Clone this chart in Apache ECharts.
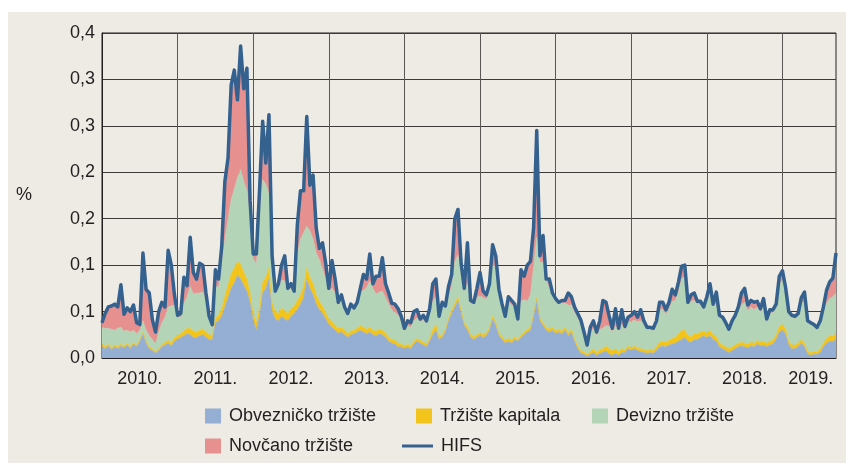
<!DOCTYPE html>
<html>
<head>
<meta charset="utf-8">
<script src="https://cdn.jsdelivr.net/npm/echarts@6/dist/echarts.min.js"></script>
<style>
html, body { margin: 0; padding: 0; background: #fff; }
#main { width: 846px; height: 463px; }
</style>
</head>
<body>
<div id="main"></div>
<script>
// polumjesečne vrijednosti, od siječnja 2010.
var startYear = 2010;
var stepsPerYear = 24;

var yearLabels = ['2010.', '2011.', '2012.', '2013.', '2014.', '2015.', '2016.', '2017.', '2018.', '2019.'];
var yTickLabels = ['0,0', '0,1', '0,1', '0,2', '0,2', '0,3', '0,3', '0,4'];

var obveznicko = [
  .012,.010,.013,.009,.012,.010,.013,.011,.014,.010,.015,.012,
  .018,.026,.016,.010,.008,.005,.008,.012,.014,.016,.013,.018,
  .020,.022,.024,.026,.025,.022,.022,.024,.025,.022,.020,.020,
  .038,.040,.045,.055,.065,.075,.081,.089,.085,.078,.072,.060,
  .040,.030,.045,.070,.075,.085,.050,.042,.040,.045,.042,.040,
  .045,.048,.052,.058,.065,.085,.075,.068,.058,.052,.048,.042,
  .036,.033,.030,.027,.028,.025,.022,.025,.026,.028,.030,.028,
  .026,.028,.025,.024,.026,.025,.022,.018,.016,.015,.012,.012,
  .010,.012,.010,.015,.018,.016,.014,.012,.018,.025,.030,.020,
  .022,.028,.040,.048,.055,.062,.048,.035,.030,.022,.020,.022,
  .024,.022,.024,.030,.042,.035,.024,.020,.016,.018,.016,.020,
  .018,.022,.025,.028,.030,.045,.062,.040,.035,.030,.028,.030,
  .026,.028,.026,.030,.024,.028,.018,.010,.005,.004,.002,.004,
  .006,.003,.005,.006,.008,.004,.003,.005,.003,.006,.006,.010,
  .008,.010,.008,.007,.006,.005,.006,.005,.008,.012,.013,.012,
  .014,.015,.016,.018,.020,.022,.018,.017,.020,.020,.022,.024,
  .022,.024,.020,.018,.012,.010,.008,.006,.008,.010,.012,.013,
  .012,.011,.013,.012,.015,.013,.014,.012,.014,.015,.020,.028,
  .030,.026,.014,.010,.010,.012,.016,.012,.004,.003,.004,.004,
  .006,.012,.016,.018,.018,.020
];

var kapitala = [
  .003,.002,.002,.002,.002,.002,.002,.002,.002,.002,.002,.002,
  .002,.002,.002,.002,.002,.002,.002,.002,.003,.003,.003,.004,
  .004,.004,.005,.006,.007,.007,.006,.006,.006,.006,.005,.004,
  .005,.006,.008,.012,.014,.016,.016,.015,.016,.014,.013,.011,
  .008,.008,.010,.012,.012,.012,.010,.008,.008,.009,.009,.008,
  .008,.008,.010,.010,.012,.012,.012,.012,.010,.009,.008,.007,
  .006,.006,.005,.005,.005,.005,.004,.004,.004,.004,.005,.005,
  .005,.005,.005,.005,.005,.005,.005,.004,.004,.004,.004,.003,
  .003,.003,.003,.003,.003,.003,.003,.003,.003,.006,.006,.003,
  .003,.003,.003,.004,.004,.004,.004,.003,.004,.003,.003,.003,
  .003,.003,.003,.003,.003,.003,.003,.003,.003,.003,.003,.003,
  .002,.003,.003,.003,.003,.003,.003,.003,.003,.003,.003,.003,
  .003,.003,.003,.003,.003,.003,.003,.003,.003,.003,.002,.003,
  .004,.003,.004,.004,.005,.006,.005,.005,.004,.004,.003,.003,
  .003,.003,.003,.003,.003,.003,.003,.003,.004,.005,.005,.005,
  .005,.006,.006,.008,.010,.008,.006,.006,.006,.006,.006,.005,
  .005,.006,.005,.005,.004,.004,.004,.004,.004,.004,.004,.004,
  .004,.004,.004,.004,.004,.004,.004,.004,.004,.004,.005,.006,
  .006,.005,.004,.004,.004,.004,.004,.004,.003,.003,.003,.003,
  .004,.004,.005,.006,.006,.006
];

var devizno = [
  .018,.020,.017,.020,.016,.020,.018,.016,.014,.016,.013,.012,
  .010,.012,.012,.012,.010,.008,.018,.024,.027,.036,.040,.035,
  .020,.018,.030,.034,.045,.040,.042,.040,.040,.035,.018,.010,
  .035,.030,.050,.060,.070,.080,.085,.090,.102,.098,.095,.080,
  .060,.062,.100,.110,.100,.080,.037,.020,.028,.030,.032,.025,
  .022,.014,.050,.060,.058,.045,.050,.048,.045,.045,.040,.036,
  .031,.036,.035,.026,.030,.024,.020,.026,.022,.026,.036,.040,
  .045,.050,.045,.040,.040,.042,.038,.036,.032,.030,.030,.024,
  .017,.020,.020,.022,.022,.020,.024,.023,.026,.030,.030,.020,
  .030,.024,.025,.025,.045,.045,.040,.035,.046,.035,.035,.040,
  .040,.040,.036,.040,.055,.060,.045,.033,.024,.040,.038,.032,
  .020,.036,.035,.030,.035,.050,.065,.060,.065,.050,.045,.035,
  .032,.027,.030,.026,.030,.026,.028,.030,.028,.020,.008,.020,
  .022,.018,.022,.022,.022,.024,.020,.025,.022,.026,.022,.026,
  .028,.028,.028,.030,.028,.023,.022,.022,.024,.036,.034,.030,
  .034,.040,.040,.045,.055,.058,.034,.038,.036,.032,.030,.024,
  .033,.040,.030,.036,.028,.028,.024,.019,.026,.030,.034,.040,
  .044,.036,.038,.036,.036,.033,.038,.024,.030,.030,.030,.045,
  .048,.040,.030,.030,.029,.030,.040,.044,.031,.030,.027,.024,
  .028,.034,.038,.040,.042,.044
];

var novcano = [
  .003,.014,.021,.023,.026,.021,.044,.016,.022,.020,.025,.010,
  .004,.071,.042,.044,.019,.011,.020,.020,.009,.059,.042,.009,
  0,.002,.026,.010,.051,.021,.013,.030,.027,.005,0,0,
  .015,.007,.015,.061,.064,.121,.126,.082,.130,.098,.130,.017,
  .002,.010,.023,.061,.021,.083,.011,0,.002,.014,.025,0,
  .003,0,.029,.050,.043,.116,.047,.067,.025,.010,.026,.015,
  0,.028,.013,0,.003,0,0,.001,0,0,.002,.015,
  .007,.027,.003,.017,.015,.034,.013,.010,.005,.007,.005,.004,
  0,.003,.003,.008,.007,.001,.003,0,.004,.017,.017,0,
  .003,0,.007,.011,.044,.047,.008,0,.042,0,0,.008,
  .023,.005,.003,.005,.020,.010,0,0,0,.003,.003,.001,
  0,.032,.023,.037,.034,.040,.110,.005,.027,0,.007,0,
  .001,0,.001,.001,.011,.007,.004,.003,.003,0,0,.004,
  .006,.002,.007,.028,.023,.009,.002,.016,.001,.014,.001,.003,
  .005,.007,.003,.010,.001,0,0,0,.002,.005,.006,.003,
  .005,.011,.004,.009,.012,.010,0,.005,.006,.001,.001,0,
  .004,.008,.001,.010,0,0,0,0,0,0,.003,.011,
  .013,.004,.005,.006,.004,.001,.006,0,.002,.001,.001,.007,
  .008,.003,0,0,0,0,.003,.009,0,0,0,0,
  0,.003,.012,.016,.018,.041
];

var hifs = [
  .038,.048,.055,.056,.058,.055,.079,.047,.054,.050,.057,.038,
  .036,.113,.074,.070,.041,.028,.050,.060,.055,.116,.100,.068,
  .046,.048,.087,.078,.130,.092,.085,.102,.100,.070,.045,.036,
  .095,.085,.120,.190,.215,.294,.310,.278,.336,.290,.312,.170,
  .112,.112,.180,.255,.210,.262,.110,.072,.080,.100,.110,.075,
  .080,.072,.143,.180,.180,.260,.186,.197,.140,.118,.124,.102,
  .075,.105,.085,.060,.068,.055,.048,.058,.054,.060,.075,.090,
  .085,.112,.080,.088,.088,.108,.080,.070,.059,.058,.053,.045,
  .032,.040,.038,.050,.052,.042,.046,.040,.053,.080,.085,.045,
  .060,.056,.077,.090,.150,.160,.102,.075,.124,.062,.060,.075,
  .092,.072,.068,.080,.122,.110,.074,.058,.045,.066,.062,.058,
  .042,.095,.088,.100,.104,.140,.245,.110,.132,.085,.085,.070,
  .064,.060,.062,.062,.070,.066,.055,.048,.041,.028,.014,.033,
  .040,.028,.040,.062,.060,.045,.032,.053,.032,.052,.034,.044,
  .046,.050,.044,.052,.040,.033,.033,.032,.040,.060,.060,.052,
  .060,.074,.068,.082,.099,.100,.060,.068,.070,.061,.061,.055,
  .066,.080,.058,.071,.046,.044,.038,.031,.040,.046,.055,.070,
  .075,.057,.062,.060,.061,.053,.064,.042,.052,.052,.058,.088,
  .094,.076,.050,.046,.045,.048,.065,.071,.040,.038,.036,.033,
  .040,.055,.073,.082,.086,.113
];

// kategorije: godina-polumjesec
var periods = [];
for (var i = 0; i < hifs.length; i++) {
  periods.push((startYear + Math.floor(i / stepsPerYear)) + '-' + (i % stepsPerYear + 1));
}
var lastIndex = periods.length - 1;
var lastYearStart = (yearLabels.length - 1) * stepsPerYear;

// na kojem indeksu stoji oznaka godine (sredina razdoblja)
function isYearLabel(idx) {
  if (idx >= lastYearStart) return idx === Math.round((lastYearStart + lastIndex) / 2);
  return idx % stepsPerYear === stepsPerYear / 2;
}

var FONT = "'Liberation Sans', Arial, sans-serif";
var TXT = '#231f20';

var colors = {
  obv: '#95aed4',
  kap: '#f2c41c',
  dev: '#b3d4b6',
  nov: '#e69190',
  hifs: '#35618f'
};

function areaSeries(name, values, color) {
  return {
    name: name,
    type: 'line',
    stack: 'hifs',
    data: values,
    symbol: 'none',
    showSymbol: false,
    lineStyle: { width: 0.5, color: color },
    areaStyle: { color: color, opacity: 1 },
    itemStyle: { color: color },
    emphasis: { disabled: true }
  };
}

function legendAt(name, left, top, w, h) {
  return {
    data: [name],
    left: left,
    top: top,
    icon: 'rect',
    itemWidth: w,
    itemHeight: h,
    padding: 0,
    selectedMode: false,
    itemStyle: { borderWidth: 0 },
    textStyle: { fontFamily: FONT, fontSize: 18, color: TXT, padding: [0, 0, 0, 3] }
  };
}

var myChart = echarts.init(document.getElementById('main'));
var options = {
  animation: false,
  backgroundColor: '#eeebe5',
  grid: {
    left: 102,
    right: 10,
    top: 33,
    bottom: 105,
    show: true,
    borderColor: '#231f20',
    borderWidth: 1,
    backgroundColor: 'transparent'
  },
  xAxis: {
    type: 'category',
    data: periods,
    boundaryGap: false,
    axisLine: { lineStyle: { color: '#231f20', width: 1 } },
    axisTick: { show: false },
    splitLine: {
      show: true,
      interval: function (idx) { return idx % stepsPerYear === 0; },
      lineStyle: { color: '#5a5654', width: 1 }
    },
    axisLabel: {
      interval: function (idx) { return isYearLabel(idx); },
      margin: 12,
      fontFamily: FONT,
      fontSize: 18,
      color: TXT,
      formatter: function (v, idx) { return yearLabels[Math.floor(idx / stepsPerYear)]; }
    }
  },
  yAxis: {
    type: 'value',
    min: 0,
    max: 0.35,
    interval: 0.05,
    axisLine: { show: true, lineStyle: { color: '#231f20' } },
    axisTick: { show: false },
    splitLine: { show: true, lineStyle: { color: '#3d3a39', width: 1 } },
    axisLabel: {
      margin: 7,
      fontFamily: FONT,
      fontSize: 18,
      color: TXT,
      formatter: function (v) { return yTickLabels[Math.round(v / 0.05)]; }
    }
  },
  legend: [
    legendAt('Obvezničko tržište', 205, 407, 16, 15),
    legendAt('Tržište kapitala', 416, 407, 16, 15),
    legendAt('Devizno tržište', 592, 407, 16, 15),
    legendAt('Novčano tržište', 205, 437, 16, 15),
    legendAt('HIFS', 402, 437, 31, 3)
  ],
  graphic: [
    { type: 'rect', left: 0, top: 0, shape: { width: 846, height: 12 }, style: { fill: '#fff' }, silent: true },
    { type: 'rect', left: 0, top: 0, shape: { width: 8, height: 463 }, style: { fill: '#fff' }, silent: true },
    { type: 'text', left: 16, top: 186, style: { text: '%', fontFamily: FONT, fontSize: 18, fill: TXT }, silent: true }
  ],
  series: [
    areaSeries('Obvezničko tržište', obveznicko, colors.obv),
    areaSeries('Tržište kapitala', kapitala, colors.kap),
    areaSeries('Devizno tržište', devizno, colors.dev),
    areaSeries('Novčano tržište', novcano, colors.nov),
    {
      name: 'HIFS',
      type: 'line',
      data: hifs,
      symbol: 'none',
      showSymbol: false,
      z: 5,
      lineStyle: { width: 3.5, color: colors.hifs, join: 'round' },
      itemStyle: { color: colors.hifs },
      emphasis: { disabled: true }
    }
  ]
};
myChart.setOption(options);
</script>
</body>
</html>
